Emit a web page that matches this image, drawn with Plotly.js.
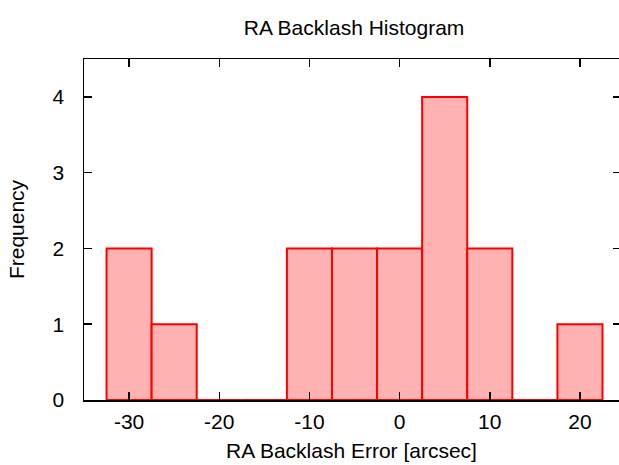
<!DOCTYPE html>
<html>
<head>
<meta charset="utf-8">
<script src="https://cdn.plot.ly/plotly-3.0.1.min.js"></script>
<style>html,body{margin:0;padding:0;background:#fff;}#chart{width:619px;height:465px;}</style>
</head>
<body>
<div id="chart"></div>
<script>
// Bin centers (arcsec), bin width 5
const binCenters = [-30, -25, -20, -15, -10, -5, 0, 5, 10, 15, 20];
const frequencies = [2, 1, 0, 0, 2, 2, 2, 4, 2, 0, 1];
const xTickValues = [-30, -20, -10, 0, 10, 20];
const yTickValues = [0, 1, 2, 3, 4];
const binWidth = 5;

const font = {family: 'Liberation Sans, Arial, sans-serif', size: 21, color: '#000'};

const trace = {
  type: 'bar',
  x: binCenters,
  y: frequencies,
  width: binCenters.map(() => binWidth),
  marker: {color: 'rgb(255,178,178)', line: {color: 'rgb(255,0,0)', width: 2}},
  hoverinfo: 'x+y'
};
const ghost = {type: 'scatter', x: [0], y: [0], yaxis: 'y2', mode: 'markers', marker: {opacity: 0}, hoverinfo: 'skip', showlegend: false};

const layout = {
  width: 619, height: 465,
  margin: {l: 84, r: 0, t: 59, b: 65},
  paper_bgcolor: '#fff', plot_bgcolor: '#fff',
  showlegend: false,
  font: font,
  bargap: 0,
  title: {text: 'RA Backlash Histogram', font: font, x: 0.572, xanchor: 'center', y: 0.94, yanchor: 'middle'},
  xaxis: {
    range: [-35, 24.33],
    tickvals: xTickValues, ticktext: xTickValues.map(String),
    ticks: 'inside', ticklen: 8, tickwidth: 1.5, tickcolor: '#000',
    showline: true, linewidth: 1.5, linecolor: '#000', mirror: 'ticks',
    showgrid: false, zeroline: false,
    ticklabelstandoff: 2,
    title: {text: 'RA Backlash Error [arcsec]', font: font, standoff: 11}
  },
  yaxis: {
    range: [0, 4.5],
    tickvals: yTickValues, ticktext: yTickValues.map(String),
    ticks: 'inside', ticklen: 8, tickwidth: 1.5, tickcolor: '#000',
    showline: true, linewidth: 1.5, linecolor: '#000', mirror: false,
    showgrid: false, zeroline: false,
    ticklabelstandoff: 14,
    title: {text: 'Frequency', font: font, standoff: 22}
  },
  yaxis2: {
    overlaying: 'y', side: 'right', matches: 'y',
    tickvals: yTickValues, showticklabels: false,
    ticks: 'inside', ticklen: 6, tickwidth: 1.5, tickcolor: '#000',
    showline: false, showgrid: false, zeroline: false
  }
};
Plotly.newPlot('chart', [trace, ghost], layout, {displayModeBar: false, staticPlot: true});
</script>
</body>
</html>
